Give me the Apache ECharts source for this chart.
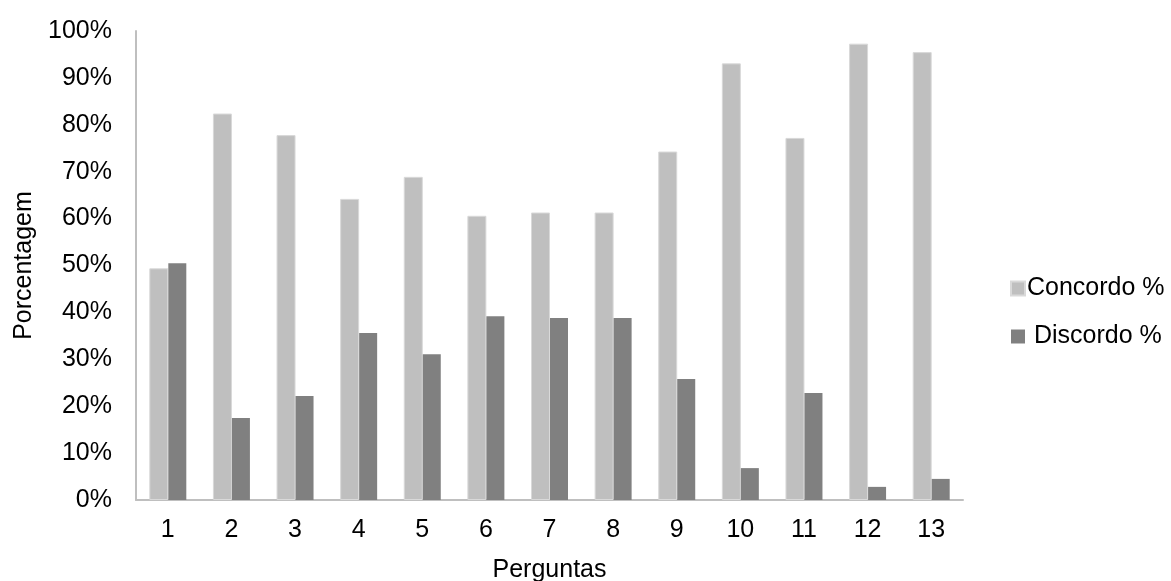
<!DOCTYPE html>
<html><head><meta charset="utf-8">
<script src="https://cdn.jsdelivr.net/npm/echarts@6/dist/echarts.min.js"></script>
<style>html,body{margin:0;padding:0;background:#fff}#c{width:1171px;height:581px}</style>
</head><body><div id="c"></div>
<script>
var categories = ['1','2','3','4','5','6','7','8','9','10','11','12','13'];
var concordo = [49.4, 82.4, 77.8, 64.2, 68.9, 60.6, 61.3, 61.3, 74.3, 93.1, 77.2, 97.3, 95.5];
var discordo = [50.5, 17.5, 22.2, 35.6, 31.1, 39.2, 38.8, 38.8, 25.8, 6.8, 22.8, 2.8, 4.5];
var seriesNames = ['Concordo %', ' Discordo %'];
var FONT = '"Liberation Sans", Arial, sans-serif';
var FS = 25;
var chart = echarts.init(document.getElementById('c'), null, {renderer:'canvas'});
chart.setOption({
  animation: false,
  textStyle: {fontFamily: FONT},
  grid: {left: 136, right: 208, top: 31, bottom: 81, containLabel: false, outerBoundsMode: 'none'},
  legend: {
    orient: 'vertical', left: 1005, top: 271, itemWidth: 14, itemHeight: 14, itemGap: 23,
    icon: 'rect',
    textStyle: {fontFamily: FONT, fontSize: FS, color: '#000', padding: [0,0,0,-3]},
    data: seriesNames
  },
  xAxis: {
    type: 'category', data: categories,
    axisLine: {lineStyle: {color: '#bfbfbf', width: 2}},
    axisTick: {show: false},
    axisLabel: {color: '#000', fontSize: FS, fontFamily: FONT, margin: 18},
    name: 'Perguntas', nameLocation: 'middle', nameGap: 58,
    nameTextStyle: {color: '#000', fontSize: FS, fontFamily: FONT}
  },
  yAxis: {
    type: 'value', min: 0, max: 100, interval: 10,
    axisLine: {show: true, lineStyle: {color: '#bfbfbf', width: 2}},
    axisTick: {show: false},
    splitLine: {show: false},
    axisLabel: {color: '#000', fontSize: FS, fontFamily: FONT, margin: 24, formatter: '{value}%'},
    name: 'Porcentagem', nameLocation: 'middle', nameGap: 99,
    nameTextStyle: {color: '#000', fontSize: FS, fontFamily: FONT}
  },
  series: [
    {name: seriesNames[0], type: 'bar', data: concordo, barWidth: 19, barGap: '0%',
     itemStyle: {color: '#bfbfbf', borderColor: '#d9d9d9', borderWidth: 1}},
    {name: seriesNames[1], type: 'bar', data: discordo, barWidth: 18,
     itemStyle: {color: '#808080'}}
  ]
});
</script></body></html>
